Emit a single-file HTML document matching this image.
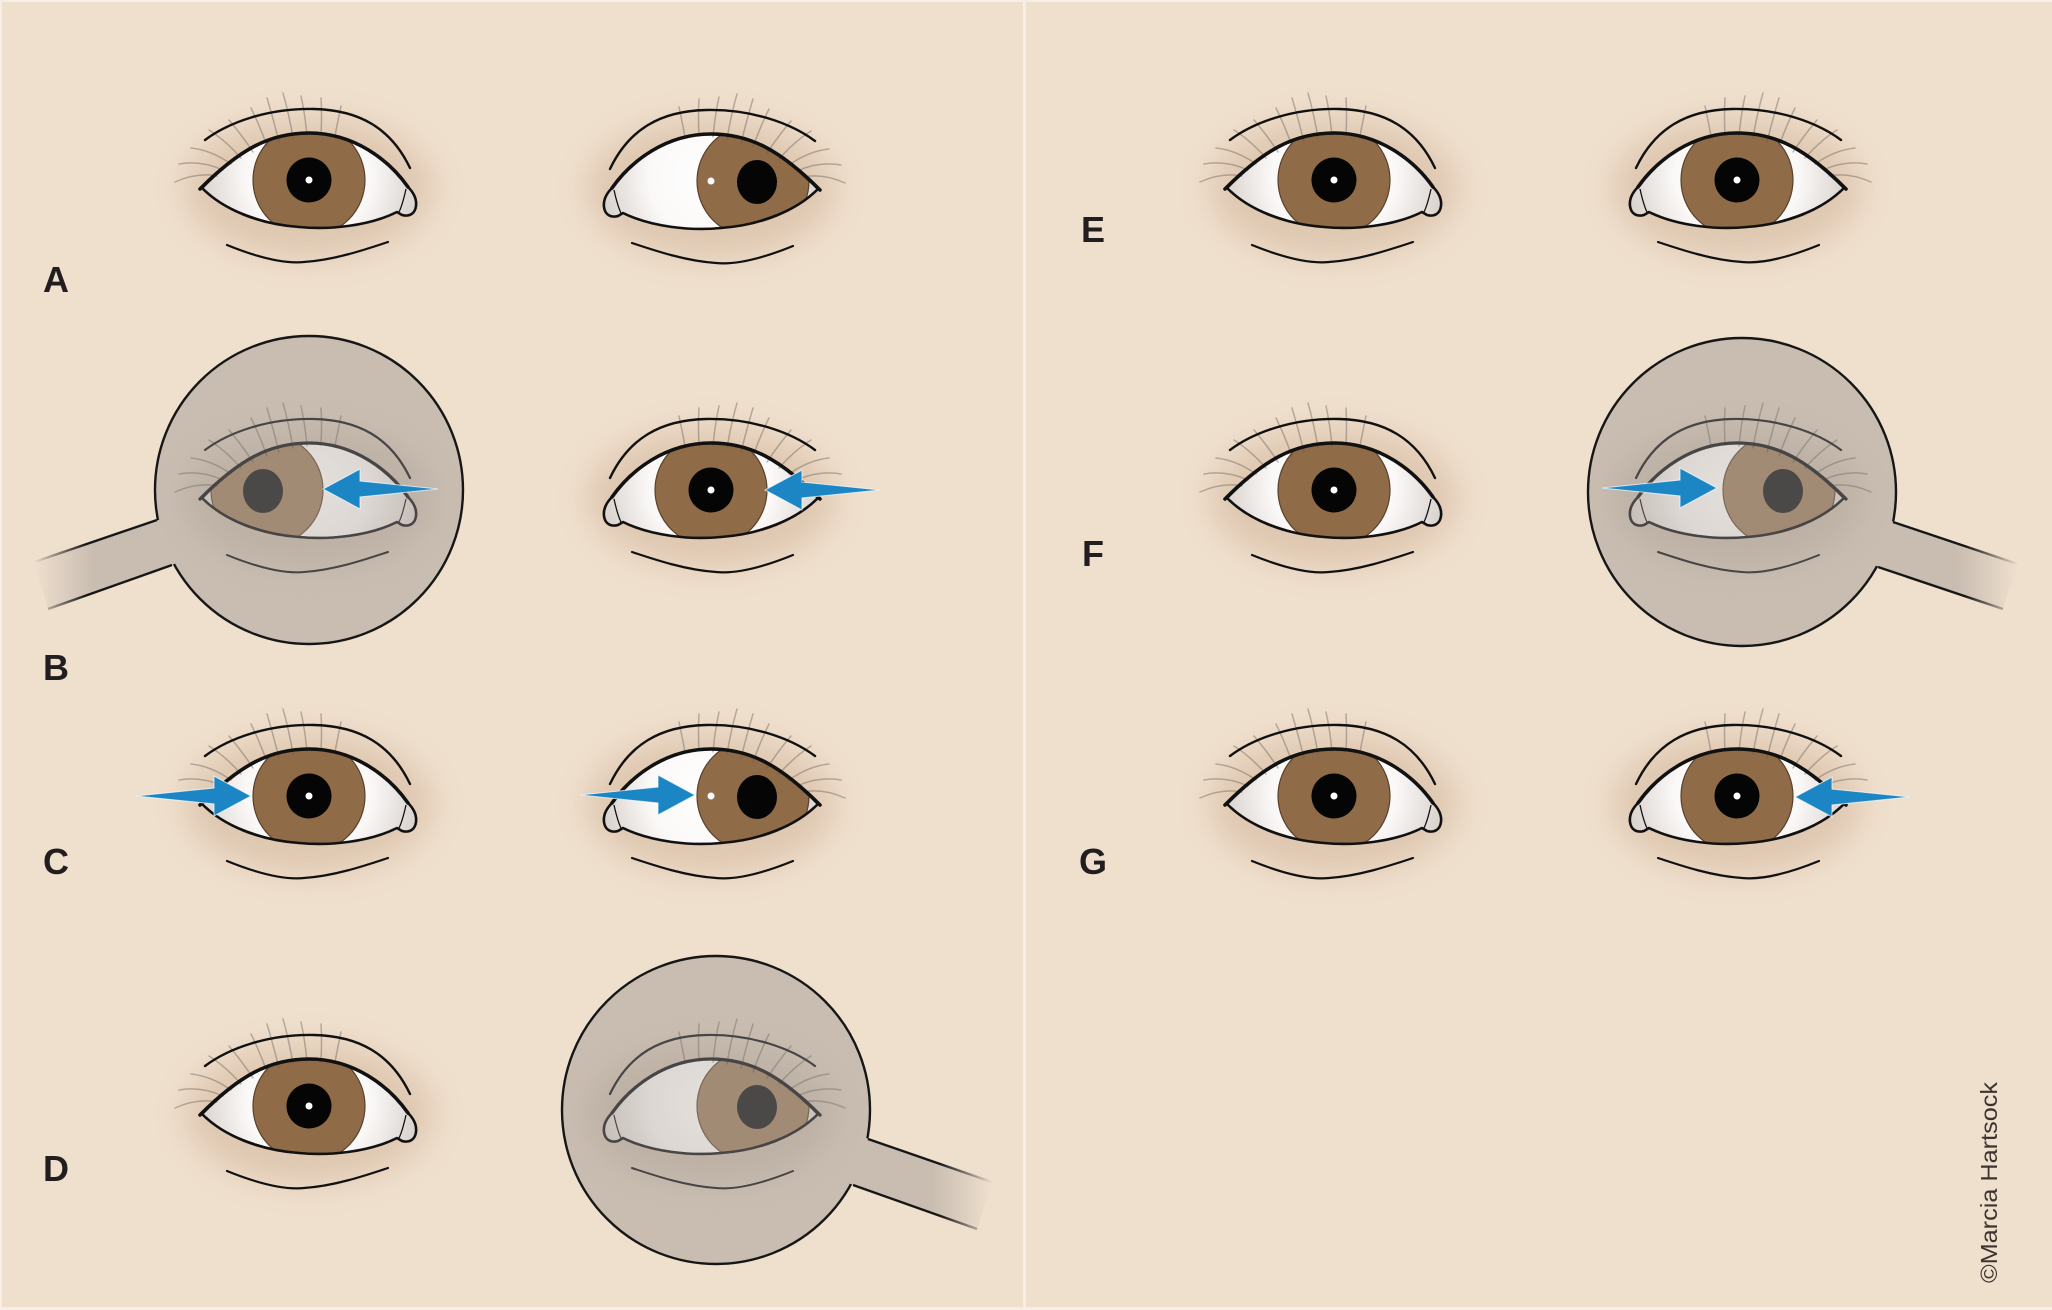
<!DOCTYPE html>
<html>
<head>
<meta charset="utf-8">
<style>
html,body{margin:0;padding:0;background:#efdfcd;}
svg{display:block}
.lbl{font-family:"Liberation Sans",Arial,sans-serif;font-weight:bold;font-size:36px;fill:#221e1f;text-anchor:middle}
</style>
</head>
<body>
<svg width="2052" height="1310" viewBox="0 0 2052 1310" xmlns="http://www.w3.org/2000/svg">
<defs>
  <filter id="bl" x="-50%" y="-50%" width="200%" height="200%"><feGaussianBlur stdDeviation="15"/></filter>
  <radialGradient id="scl" gradientUnits="userSpaceOnUse" cx="0" cy="-4" r="112">
    <stop offset="0" stop-color="#ffffff"/>
    <stop offset="0.55" stop-color="#fbf9f8"/>
    <stop offset="1" stop-color="#d8d1cc"/>
  </radialGradient>
  <radialGradient id="sclg" gradientUnits="userSpaceOnUse" cx="0" cy="-4" r="112">
    <stop offset="0" stop-color="#e4e0dc"/>
    <stop offset="0.55" stop-color="#dcd7d3"/>
    <stop offset="1" stop-color="#c6beb8"/>
  </radialGradient>
  <clipPath id="ec"><path d="M-107,8 C-70,-30 -40,-47 0,-47 C45,-47 80,-20 99,7 C104,12 108,18 107,26 C106,34 100,37 93,35 L88,32 C60,46 20,50 -10,47 C-50,44 -85,30 -107,8 Z"/></clipPath>
  <clipPath id="cB"><circle cx="309" cy="490" r="153"/></clipPath>
  <clipPath id="cD"><circle cx="716" cy="1110" r="153"/></clipPath>
  <clipPath id="cF"><circle cx="1742" cy="492" r="153"/></clipPath>

  <linearGradient id="hfL" x1="1" y1="0" x2="0" y2="0">
    <stop offset="0" stop-color="#c9bdb1" stop-opacity="1"/>
    <stop offset="0.62" stop-color="#c9bdb1" stop-opacity="1"/>
    <stop offset="1" stop-color="#c9bdb1" stop-opacity="0"/>
  </linearGradient>
  <linearGradient id="hsL" x1="1" y1="0" x2="0" y2="0">
    <stop offset="0" stop-color="#161616" stop-opacity="1"/>
    <stop offset="0.62" stop-color="#161616" stop-opacity="1"/>
    <stop offset="1" stop-color="#161616" stop-opacity="0"/>
  </linearGradient>
  <linearGradient id="hfR" x1="0" y1="0" x2="1" y2="0">
    <stop offset="0" stop-color="#c9bdb1" stop-opacity="1"/>
    <stop offset="0.62" stop-color="#c9bdb1" stop-opacity="1"/>
    <stop offset="1" stop-color="#c9bdb1" stop-opacity="0"/>
  </linearGradient>
  <linearGradient id="hsR" x1="0" y1="0" x2="1" y2="0">
    <stop offset="0" stop-color="#161616" stop-opacity="1"/>
    <stop offset="0.62" stop-color="#161616" stop-opacity="1"/>
    <stop offset="1" stop-color="#161616" stop-opacity="0"/>
  </linearGradient>

  <path id="arr" d="M0,0 L78,-8 L78,-20 L115,0 L78,20 L78,8 Z" fill="#1c86c4" stroke="#ffffff" stroke-opacity="0.7" stroke-width="1" stroke-linejoin="miter"/>

  <path id="lash" d="M-92,-4 Q-112,-8 -134,2 M-86,-10 Q-108,-20 -130,-16 M-78,-16 Q-98,-30 -118,-32 M-68,-22 Q-84,-40 -100,-50 M-56,-28 Q-68,-46 -80,-60 M-42,-34 Q-50,-56 -58,-72 M-30,-38 Q-36,-62 -42,-82 M-16,-42 Q-20,-66 -26,-87 M-2,-44 Q-4,-66 -8,-84 M12,-45 Q13,-66 12,-82 M26,-44 Q29,-60 32,-74"/>
  <path id="openp" d="M-107,8 C-70,-30 -40,-47 0,-47 C45,-47 80,-20 99,7 C104,12 108,18 107,26 C106,34 100,37 93,35 L88,32 C60,46 20,50 -10,47 C-50,44 -85,30 -107,8 Z"/>

  <!-- straight gaze eye -->
  <g id="eyeS">
    <ellipse cx="0" cy="8" rx="124" ry="70" fill="#c7a688" opacity="0.4" filter="url(#bl)"/>
    <use href="#openp" fill="url(#scl)"/>
    <g clip-path="url(#ec)">
      <circle cx="0" cy="0" r="56" fill="#906b48" stroke="#5a412c" stroke-width="1.2"/>
      <circle cx="0" cy="0" r="22.5" fill="#060505"/>
    </g>
    <circle cx="0" cy="0" r="3.5" fill="#ffffff"/>
    <use href="#lash" fill="none" stroke="#5f5853" stroke-opacity="0.4" stroke-width="1.5" stroke-linecap="round"/>
    <path d="M-104,-40 C-80,-58 -40,-72 5,-71 C50,-70 82,-52 101,-12" fill="none" stroke="#111" stroke-width="2.4" stroke-linecap="round"/>
    <path d="M-82,65 C-50,78 -25,84 -5,82 C25,80 55,70 79,62" fill="none" stroke="#111" stroke-width="2.2" stroke-linecap="round"/>
    <use href="#openp" fill="none" stroke="#111" stroke-width="2.6" stroke-linejoin="round"/>
    <path d="M-109,9 C-70,-30 -40,-47 0,-47 C45,-47 80,-20 99,7" fill="none" stroke="#111" stroke-width="3.6" stroke-linecap="round"/>
    <path d="M97,9 C95,18 93,26 90,32 M-103,11 C-90,24 -70,34 -40,42" fill="none" stroke="#111" stroke-width="1.3"/>
  </g>

  <!-- lateral gaze eye -->
  <g id="eyeL">
    <ellipse cx="0" cy="8" rx="124" ry="70" fill="#c7a688" opacity="0.4" filter="url(#bl)"/>
    <use href="#openp" fill="url(#scl)"/>
    <g clip-path="url(#ec)">
      <circle cx="-42" cy="0" r="56" fill="#906b48" stroke="#5a412c" stroke-width="1.2"/>
      <ellipse cx="-46" cy="1" rx="20" ry="22" fill="#060505"/>
    </g>
    <circle cx="0" cy="0" r="3.5" fill="#ffffff"/>
    <use href="#lash" fill="none" stroke="#5f5853" stroke-opacity="0.4" stroke-width="1.5" stroke-linecap="round"/>
    <path d="M-104,-40 C-80,-58 -40,-72 5,-71 C50,-70 82,-52 101,-12" fill="none" stroke="#111" stroke-width="2.4" stroke-linecap="round"/>
    <path d="M-82,65 C-50,78 -25,84 -5,82 C25,80 55,70 79,62" fill="none" stroke="#111" stroke-width="2.2" stroke-linecap="round"/>
    <use href="#openp" fill="none" stroke="#111" stroke-width="2.6" stroke-linejoin="round"/>
    <path d="M-109,9 C-70,-30 -40,-47 0,-47 C45,-47 80,-20 99,7" fill="none" stroke="#111" stroke-width="3.6" stroke-linecap="round"/>
    <path d="M97,9 C95,18 93,26 90,32 M-103,11 C-90,24 -70,34 -40,42" fill="none" stroke="#111" stroke-width="1.3"/>
  </g>

  <!-- greyed lateral eye (behind occluder) -->
  <g id="eyeG">
    <ellipse cx="0" cy="8" rx="124" ry="70" fill="#a4968a" opacity="0.3" filter="url(#bl)"/>
    <use href="#openp" fill="url(#sclg)"/>
    <g clip-path="url(#ec)">
      <circle cx="-42" cy="0" r="56" fill="#a28b75" stroke="#7a6856" stroke-width="1.2"/>
      <ellipse cx="-46" cy="1" rx="20" ry="22" fill="#4b4848"/>
    </g>
    <use href="#lash" fill="none" stroke="#5a5550" stroke-opacity="0.35" stroke-width="1.5" stroke-linecap="round"/>
    <path d="M-104,-40 C-80,-58 -40,-72 5,-71 C50,-70 82,-52 101,-12" fill="none" stroke="#474545" stroke-width="2.2" stroke-linecap="round"/>
    <path d="M-82,65 C-50,78 -25,84 -5,82 C25,80 55,70 79,62" fill="none" stroke="#474545" stroke-width="2" stroke-linecap="round"/>
    <use href="#openp" fill="none" stroke="#474545" stroke-width="2.6" stroke-linejoin="round"/>
    <path d="M-109,9 C-70,-30 -40,-47 0,-47 C45,-47 80,-20 99,7" fill="none" stroke="#474545" stroke-width="3.3" stroke-linecap="round"/>
    <path d="M97,9 C95,18 93,26 90,32 M-103,11 C-90,24 -70,34 -40,42" fill="none" stroke="#474545" stroke-width="1.2"/>
  </g>
</defs>

<!-- background -->
<rect x="0" y="0" width="2052" height="1310" fill="#efdfcd"/>
<rect x="0" y="0" width="2" height="1310" fill="#f7eee5"/>
<rect x="0" y="0" width="2052" height="2" fill="#f7eee5"/>
<rect x="0" y="1307" width="2052" height="3" fill="#f7eee5"/>
<rect x="1023" y="0" width="3" height="1310" fill="#f7eee5"/>

<!-- Row A -->
<use href="#eyeS" transform="translate(309,180)"/>
<use href="#eyeL" transform="translate(711,181) scale(-1,1)"/>

<!-- Row B -->
<circle cx="309" cy="490" r="154" fill="#c9bdb1" stroke="#161616" stroke-width="2.4"/>
<polygon points="176,514 34,562 48,609 191,558" fill="url(#hfL)"/>
<path d="M157,520 L34,562 M172,565 L48,609" fill="none" stroke="url(#hsL)" stroke-width="2.4"/>
<g clip-path="url(#cB)"><use href="#eyeG" transform="translate(309,490)"/></g>
<use href="#arr" transform="translate(438,489) scale(-1,1)"/>

<use href="#eyeS" transform="translate(711,490) scale(-1,1)"/>
<use href="#arr" transform="translate(880,490) scale(-1,1)"/>

<!-- Row C -->
<use href="#eyeS" transform="translate(309,796)"/>
<use href="#arr" transform="translate(136,796)"/>
<use href="#eyeL" transform="translate(711,796) scale(-1,1)"/>
<use href="#arr" transform="translate(580,795)"/>

<!-- Row D -->
<use href="#eyeS" transform="translate(309,1106)"/>
<circle cx="716" cy="1110" r="154" fill="#c9bdb1" stroke="#161616" stroke-width="2.4"/>
<polygon points="849,1132 992,1182 977,1229 834,1178" fill="url(#hfR)"/>
<path d="M868,1139 L992,1182 M853,1185 L977,1229" fill="none" stroke="url(#hsR)" stroke-width="2.4"/>
<g clip-path="url(#cD)"><use href="#eyeG" transform="translate(711,1106) scale(-1,1)"/></g>

<!-- Row E -->
<use href="#eyeS" transform="translate(1334,180)"/>
<use href="#eyeS" transform="translate(1737,180) scale(-1,1)"/>

<!-- Row F -->
<use href="#eyeS" transform="translate(1334,490)"/>
<circle cx="1742" cy="492" r="154" fill="#c9bdb1" stroke="#161616" stroke-width="2.4"/>
<polygon points="1874,515 2018,564 2003,609 1859,560" fill="url(#hfR)"/>
<path d="M1893,522 L2018,564 M1878,567 L2003,609" fill="none" stroke="url(#hsR)" stroke-width="2.4"/>
<g clip-path="url(#cF)"><use href="#eyeG" transform="translate(1737,490) scale(-1,1)"/></g>
<use href="#arr" transform="translate(1602,488)"/>

<!-- Row G -->
<use href="#eyeS" transform="translate(1334,796)"/>
<use href="#eyeS" transform="translate(1737,796) scale(-1,1)"/>
<use href="#arr" transform="translate(1910,797) scale(-1,1)"/>

<!-- Labels -->
<text class="lbl" x="56" y="292">A</text>
<text class="lbl" x="56" y="680">B</text>
<text class="lbl" x="56" y="874">C</text>
<text class="lbl" x="56" y="1181">D</text>
<text class="lbl" x="1093" y="242">E</text>
<text class="lbl" x="1093" y="566">F</text>
<text class="lbl" x="1093" y="874">G</text>

<!-- Credit -->
<text transform="translate(1997,1283) rotate(-90)" font-family="Liberation Sans, Arial, sans-serif" font-size="23" fill="#3b3430" textLength="201" lengthAdjust="spacingAndGlyphs">©Marcia Hartsock</text>
</svg>
</body>
</html>
